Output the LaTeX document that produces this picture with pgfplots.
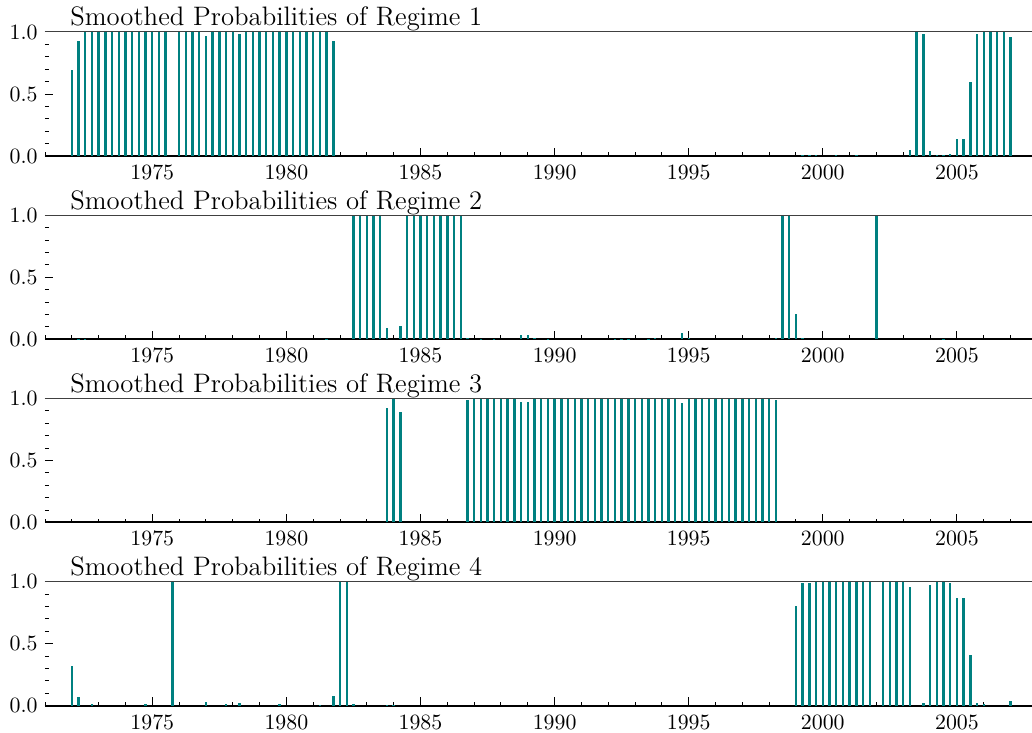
\documentclass[border=0pt]{standalone}
\usepackage{pgfplots}
\pgfplotsset{compat=1.18}
\definecolor{tealc}{HTML}{008080}

\pgfplotsset{
  regime/.style={
    scale only axis, width=493.5bp, height=62bp,
    xmin=1971, xmax=2007.8, ymin=0, ymax=1,
    axis x line*=bottom, axis y line*=left,
    x axis line style={line width=1bp, black},
    y axis line style={draw=none},
    xtick={1975,1980,...,2005},
    minor xtick={1971,1972,...,2007},
    ytick={0,0.5,1},
    minor ytick={0.1,0.2,0.3,0.4,0.6,0.7,0.8,0.9},
    tick align=inside,
    major tick length=4.2bp, minor tick length=1.9bp,
    tick style={black, line width=0.5bp},
    /pgf/number format/1000 sep={},
    yticklabel={\pgfmathprintnumber[fixed,fixed zerofill,precision=1]{\tick}},
    tick label style={font=\fontsize{10.5}{12}\selectfont},
    xticklabel style={inner sep=0pt, yshift=-4.5bp},
    yticklabel style={inner sep=0pt, xshift=-3.5bp},
    every axis title/.style={at={(0,1)}, anchor=base west, inner sep=0pt,
      xshift=12.5bp, yshift=3bp, font=\fontsize{13.4}{15}\selectfont},
  },
  bars/.style={ycomb, tealc, line width=1.2bp, mark=none},
}

\begin{document}
\begin{tikzpicture}

% Regime 1
\begin{axis}[regime, at={(0,0)}, anchor=north west,
  title={Smoothed Probabilities of Regime 1}]
\addplot[bars] coordinates {
(1972.00,0.69) (1972.25,0.93) (1972.50,1) (1972.75,1) (1973.00,1) (1973.25,1)
(1973.50,1) (1973.75,1) (1974.00,1) (1974.25,1) (1974.50,1) (1974.75,1)
(1975.00,1) (1975.25,1) (1975.50,1)
(1976.00,1) (1976.25,1) (1976.50,1) (1976.75,1) (1977.00,0.97) (1977.25,1)
(1977.50,1) (1977.75,1) (1978.00,1) (1978.25,0.98) (1978.50,1) (1978.75,1)
(1979.00,1) (1979.25,1) (1979.50,1) (1979.75,1) (1980.00,1) (1980.25,1)
(1980.50,1) (1980.75,1) (1981.00,1) (1981.25,1) (1981.50,1) (1981.75,0.93)
(1999.25,0.01) (1999.50,0.01) (1999.75,0.005) (2000.50,0.005) (2001.25,0.005)
(2003.25,0.05) (2003.50,1) (2003.75,0.98) (2004.00,0.04) (2004.25,0.01)
(2004.50,0.01) (2004.75,0.02) (2005.00,0.14) (2005.25,0.14) (2005.50,0.60)
(2005.75,0.98) (2006.00,1) (2006.25,1) (2006.50,1) (2006.75,1) (2007.00,0.96)
};
\draw[black!75, line width=0.5bp] (rel axis cs:0,1) -- (rel axis cs:1,1);
\coordinate (tl) at (rel axis cs:0,1);
\end{axis}

% Regime 2
\begin{axis}[regime, at={(0,-91.6bp)}, anchor=north west,
  title={Smoothed Probabilities of Regime 2}]
\addplot[bars] coordinates {
(1972.25,0.005) (1972.50,0.005) (1981.50,0.005)
(1982.50,1) (1982.75,1) (1983.00,1) (1983.25,1) (1983.50,1) (1983.75,0.09)
(1984.25,0.11) (1984.50,1) (1984.75,1) (1985.00,1) (1985.25,1) (1985.50,1)
(1985.75,1) (1986.00,1) (1986.25,1) (1986.50,1) (1986.75,0.01)
(1987.25,0.005) (1987.75,0.005) (1988.75,0.03) (1989.00,0.03) (1989.25,0.01)
(1989.75,0.005) (1992.25,0.005) (1992.50,0.005) (1992.75,0.005)
(1993.50,0.005) (1993.75,0.01) (1994.75,0.05) (1995.00,0.01)
(1998.25,0.01) (1998.50,1) (1998.75,1) (1999.00,0.20) (1999.25,0.01)
(2002.00,1) (2004.50,0.005)
};
\draw[black!75, line width=0.5bp] (rel axis cs:0,1) -- (rel axis cs:1,1);
\end{axis}

% Regime 3
\begin{axis}[regime, at={(0,-183.2bp)}, anchor=north west,
  title={Smoothed Probabilities of Regime 3}]
\addplot[bars] coordinates {
(1983.75,0.92) (1984.00,1) (1984.25,0.89)
(1986.75,0.99) (1987.00,1) (1987.25,1) (1987.50,1) (1987.75,1) (1988.00,1)
(1988.25,1) (1988.50,1) (1988.75,0.97) (1989.00,0.97) (1989.25,1) (1989.50,1)
(1989.75,1) (1990.00,1) (1990.25,1) (1990.50,1) (1990.75,1) (1991.00,1)
(1991.25,1) (1991.50,1) (1991.75,1) (1992.00,1) (1992.25,1) (1992.50,1)
(1992.75,1) (1993.00,1) (1993.25,1) (1993.50,1) (1993.75,1) (1994.00,1)
(1994.25,1) (1994.50,1) (1994.75,0.96) (1995.00,1) (1995.25,1) (1995.50,1)
(1995.75,1) (1996.00,1) (1996.25,1) (1996.50,1) (1996.75,1) (1997.00,1)
(1997.25,1) (1997.50,1) (1997.75,1) (1998.00,1) (1998.25,0.99)
};
\draw[black!75, line width=0.5bp] (rel axis cs:0,1) -- (rel axis cs:1,1);
\end{axis}

% Regime 4
\begin{axis}[regime, at={(0,-274.8bp)}, anchor=north west,
  title={Smoothed Probabilities of Regime 4}]
\addplot[bars] coordinates {
(1972.00,0.32) (1972.25,0.07) (1972.75,0.01) (1974.75,0.01) (1975.75,1)
(1977.00,0.03) (1977.75,0.01) (1978.25,0.02) (1979.75,0.01) (1981.25,0.005)
(1981.75,0.08) (1982.00,1) (1982.25,1) (1982.50,0.01) (1983.75,0.005)
(1984.00,0.005)
(1999.00,0.80) (1999.25,0.99) (1999.50,0.99) (1999.75,1) (2000.00,1)
(2000.25,1) (2000.50,1) (2000.75,1) (2001.00,1) (2001.25,1) (2001.50,1)
(2001.75,1) (2002.25,1) (2002.50,1) (2002.75,1) (2003.00,1) (2003.25,0.96)
(2003.75,0.02) (2004.00,0.97) (2004.25,1) (2004.50,1) (2004.75,0.99)
(2005.00,0.87) (2005.25,0.87) (2005.50,0.41) (2005.75,0.02) (2006.00,0.01)
(2007.00,0.04)
};
\draw[black!75, line width=0.5bp] (rel axis cs:0,1) -- (rel axis cs:1,1);
\coordinate (br) at (rel axis cs:1,0);
\end{axis}

\pgfresetboundingbox
\path[use as bounding box] ([shift={(-22.5bp,16bp)}]tl) rectangle ([shift={(0bp,-13.65bp)}]br);
\end{tikzpicture}
\end{document}
